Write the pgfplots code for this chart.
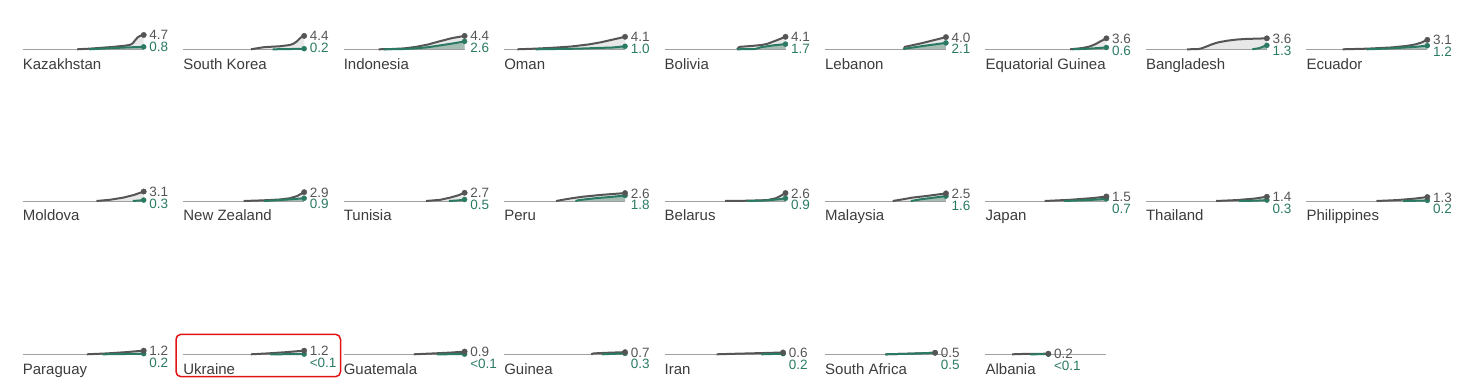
\documentclass[border=0pt]{standalone}
\usepackage{fontspec}
\setmainfont{Liberation Sans}
\usepackage{pgfplots}
\pgfplotsset{compat=1.18}
\definecolor{grayline}{RGB}{85,85,85}
\definecolor{grayfill}{RGB}{232,232,232}
\definecolor{greenline}{RGB}{42,122,100}
\definecolor{greenfill}{RGB}{165,188,179}
\definecolor{basecol}{RGB}{160,160,160}
\definecolor{nametxt}{RGB}{60,60,60}
\definecolor{graytxt}{RGB}{85,85,85}
\definecolor{greentxt}{RGB}{42,122,100}
\definecolor{boxred}{RGB}{225,20,20}
\newcommand{\namefont}{\fontsize{15bp}{18bp}\selectfont}
\newcommand{\valfont}{\fontsize{13.5bp}{15bp}\selectfont}
\pgfplotsset{panel/.style={
  scale only axis, width=121bp, height=15.25bp,
  xmin=0, xmax=100, ymin=0, ymax=5,
  axis lines=none, ticks=none, clip=false, anchor=south west}}
\newcommand{\vallabels}[4]{%
  \node[anchor=base west, inner sep=0pt, font=\valfont, text=graytxt, xshift=5.5bp, yshift=-5bp] at (axis cs:#1,#2) {#3};
  \node[anchor=base west, inner sep=0pt, font=\valfont, text=greentxt, xshift=5.5bp, yshift=-16.7bp] at (axis cs:#1,#2) {#4};}
% #1 x0, #2 y0, #3 name, #4 gray, #5 green, #6 xend, #7 grayval, #8 greenval, #9 {toplabel}{bottomlabel}
\newcommand{\panel}[9]{%
\begin{axis}[panel, at={(#1bp,#2bp)}]
\addplot[fill=grayfill, draw=none] coordinates {#4} \closedcycle;
\addplot[fill=greenfill, draw=none] coordinates {#5} \closedcycle;
\addplot[basecol, line width=1bp] coordinates {(0,0) (100,0)};
\addplot[grayline, line width=2bp, line join=round] coordinates {#4};
\addplot[greenline, line width=2bp, line join=round] coordinates {#5};
\addplot[only marks, mark=*, mark size=2.5bp, greenline] coordinates {(#6,#8)};
\addplot[only marks, mark=*, mark size=2.7bp, grayline] coordinates {(#6,#7)};
\node[anchor=base west, inner sep=0pt, font=\namefont, text=nametxt, yshift=-19.7bp] at (axis cs:0,0) {#3};
\vallabels{#6}{#7}#9
\end{axis}}
\begin{document}
\begin{tikzpicture}
\path[use as bounding box] (0,0) rectangle (1467bp,-384bp);
% Row 1
\panel{22.7}{-49.3}{Kazakhstan}
 {(45,0) (55,0.2) (65,0.5) (75,0.8) (85,1.2) (89,1.5) (91,2.0) (93,3.0) (95,3.9) (97,4.4) (100,4.7)}
 {(55,0) (70,0.3) (85,0.6) (100,0.8)}{100}{4.7}{0.8}{{4.7}{0.8}}
\panel{183.15}{-49.3}{South Korea}
 {(56,0) (62,0.4) (67,0.7) (80,1.0) (88,1.4) (91,1.8) (94,2.6) (97,3.8) (100,4.4)}
 {(74,0) (85,0.05) (100,0.2)}{100}{4.4}{0.2}{{4.4}{0.2}}
\panel{343.6}{-49.3}{Indonesia}
 {(29,0) (40,0.1) (50,0.3) (60,0.8) (70,1.6) (80,2.7) (90,3.7) (100,4.4)}
 {(33,0) (50,0.1) (60,0.3) (70,0.7) (80,1.3) (90,1.9) (100,2.6)}{100}{4.4}{2.6}{{4.4}{2.6}}
\panel{504.05}{-49.3}{Oman}
 {(11,0) (25,0.2) (40,0.5) (55,0.9) (70,1.6) (80,2.3) (90,3.2) (100,4.1)}
 {(26,0) (60,0.2) (90,0.6) (100,1.0)}{100}{4.1}{1.0}{{4.1}{1.0}}
\panel{664.5}{-49.3}{Bolivia}
 {(60,0) (62,0.8) (72,1.1) (80,1.4) (85,1.8) (93,3.0) (100,4.1)}
 {(60,0) (75,0.1) (80,0.7) (90,1.3) (100,1.7)}{100}{4.1}{1.7}{{4.1}{1.7}}
\panel{824.95}{-49.3}{Lebanon}
 {(65,0) (66,0.8) (80,2.0) (90,3.0) (100,4.0)}
 {(65,0) (66,0.2) (83,1.2) (100,2.1)}{100}{4.0}{2.1}{{4.0}{2.1}}
\panel{985.4}{-49.3}{Equatorial Guinea}
 {(70,0) (80,0.4) (86,0.9) (91,1.7) (95,2.6) (100,3.6)}
 {(72,0) (85,0.2) (100,0.6)}{100}{3.6}{0.6}{{3.6}{0.6}}
\panel{1145.85}{-49.3}{Bangladesh}
 {(34,0) (43,0.05) (46,0.3) (50,0.9) (55,1.7) (60,2.3) (67,2.8) (75,3.2) (83,3.4) (92,3.5) (100,3.6)}
 {(88,0) (94,0.4) (97,0.9) (100,1.3)}{100}{3.6}{1.3}{{3.6}{1.3}}
\panel{1306.3}{-49.3}{Ecuador}
 {(30,0) (50,0.2) (70,0.6) (83,1.1) (90,1.6) (95,2.2) (100,3.1)}
 {(50,0) (70,0.3) (90,0.8) (100,1.2)}{100}{3.1}{1.2}{{3.1}{1.2}}
% Row 2
\panel{22.7}{-201}{Moldova}
 {(61,0) (72,0.4) (83,1.1) (92,2.0) (100,3.1)}
 {(91,0) (100,0.3)}{100}{3.1}{0.3}{{3.1}{0.3}}
\panel{183.15}{-201}{New Zealand}
 {(50,0) (65,0.2) (80,0.5) (88,0.9) (94,1.6) (100,2.9)}
 {(67,0) (80,0.3) (90,0.6) (100,0.9)}{100}{2.9}{0.9}{{2.9}{0.9}}
\panel{343.6}{-201}{Tunisia}
 {(68,0) (80,0.4) (88,1.1) (95,1.9) (100,2.7)}
 {(87,0) (95,0.2) (100,0.5)}{100}{2.7}{0.5}{{2.7}{0.5}}
\panel{504.05}{-201}{Peru}
 {(43,0) (50,0.5) (56,0.9) (65,1.4) (80,2.0) (90,2.3) (100,2.6)}
 {(59,0) (62,0.3) (75,0.9) (90,1.4) (100,1.8)}{100}{2.6}{1.8}{{2.6}{1.8}}
\panel{664.5}{-201}{Belarus}
 {(50,0) (70,0.1) (85,0.3) (92,0.9) (96,1.7) (100,2.6)}
 {(68,0) (85,0.2) (95,0.6) (100,0.9)}{100}{2.6}{0.9}{{2.6}{0.9}}
\panel{824.95}{-201}{Malaysia}
 {(56,0) (65,0.6) (72,1.1) (85,1.7) (100,2.5)}
 {(71,0) (80,0.6) (90,1.1) (100,1.6)}{100}{2.5}{1.6}{{2.5}{1.6}}
\panel{985.4}{-201}{Japan}
 {(49,0) (70,0.4) (90,1.0) (100,1.5)}
 {(65,0) (85,0.3) (100,0.7)}{100}{1.5}{0.7}{{1.5}{0.7}}
\panel{1145.85}{-201}{Thailand}
 {(58,0) (75,0.3) (90,0.8) (100,1.4)}
 {(77,0) (90,0.1) (100,0.3)}{100}{1.4}{0.3}{{1.4}{0.3}}
\panel{1306.3}{-201}{Philippines}
 {(58,0) (75,0.3) (90,0.8) (100,1.3)}
 {(80,0) (90,0.08) (100,0.2)}{100}{1.3}{0.2}{{1.3}{0.2}}
% Row 3
\panel{22.7}{-354.3}{Paraguay}
 {(53,0) (70,0.3) (85,0.7) (100,1.2)}
 {(66,0) (85,0.1) (100,0.2)}{100}{1.2}{0.2}{{1.2}{0.2}}
\panel{183.15}{-354.3}{Ukraine}
 {(56,0) (70,0.3) (85,0.7) (100,1.2)}
 {(72,0) (100,0.05)}{100}{1.2}{0.05}{{1.2}{<0.1}}
\panel{343.6}{-354.3}{Guatemala}
 {(58,0) (75,0.3) (90,0.6) (100,0.9)}
 {(77,0) (100,0.05)}{100}{0.9}{0.05}{{0.9}{<0.1}}
\panel{504.05}{-354.3}{Guinea}
 {(72,0) (74,0.3) (85,0.5) (100,0.7)}
 {(81,0) (90,0.15) (100,0.3)}{100}{0.7}{0.3}{{0.7}{0.3}}
\panel{664.5}{-354.3}{Iran}
 {(43,0) (60,0.2) (80,0.4) (98,0.6)}
 {(80,0) (98,0.2)}{98}{0.6}{0.2}{{0.6}{0.2}}
\panel{824.95}{-354.3}{South Africa}
 {(50,0) (70,0.2) (91,0.5)}
 {(50,0) (70,0.2) (91,0.5)}{91}{0.5}{0.5}{{0.5}{0.5}}
\panel{985.4}{-354.3}{Albania}
 {(22,0) (30,0.1) (52,0.2)}
 {(37,0) (52,0.05)}{52}{0.2}{0.05}{{0.2}{<0.1}}
% highlight box
\draw[boxred, line width=1.5bp, rounded corners=5bp] (176bp,-334.3bp) rectangle (340.5bp,-376.7bp);
\end{tikzpicture}
\end{document}
